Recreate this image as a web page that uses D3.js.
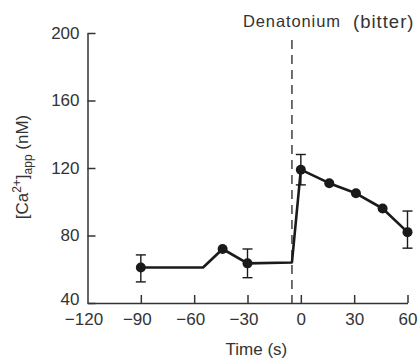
<!DOCTYPE html>
<meta charset="utf-8">
<style>
 body { margin: 0; background: white; }
 text {
     font-family: "Liberation Sans", Arial, sans-serif;
     fill: #333;
 }
 .axis path, .axis line {
     stroke: #333;
     stroke-width: 1.5px;
 }
 .axis text {
     font-size: 17px;
     fill: #333;
 }
 .trace {
     fill: none;
     stroke: #1a1a1a;
     stroke-width: 2.6px;
     stroke-linejoin: round;
 }
 .dot { fill: #1a1a1a; }
 .err { stroke: #1a1a1a; stroke-width: 1.4px; }
 .stim {
     stroke: #222;
     stroke-width: 1.3px;
     stroke-dasharray: 9,6;
 }
</style>

<svg class="chart"></svg>

<script src="https://cdn.jsdelivr.net/npm/d3@7"></script>

<script>

 // trace vertices (time in s, apparent Ca2+ in nM)
 var lineTime  = [-90, -55, -44, -30, -5, 0, 16, 31, 46, 60];
 var lineValue = [61, 61, 72, 63.5, 64, 119, 111, 105, 96, 82];

 // measured points drawn as dots
 var pointTime  = [-90, -44, -30, 0, 16, 31, 46, 60];
 var pointValue = [61, 72, 63.5, 119, 111, 105, 96, 82];

 // error bars
 var errTime = [-90, -30, 0, 60];
 var errMean = [60.5, 63.5, 119, 83.5];
 var errSd   = [8, 8.5, 9, 11];

 var xTicks = [-120, -90, -60, -30, 0, 30, 60];
 var yTicks = [40, 80, 120, 160, 200];

 var stimTime = -5;
 var stimLabel = "Denatonium";
 var tasteLabel = "(bitter)";

 var width = 419, height = 362;

 var svg = d3.select(".chart").attr("width", width).attr("height", height);

 var x = d3.scaleLinear().domain([-120, 60]).range([87.5, 407.5]);
 var y = d3.scaleLinear().domain([40, 200]).range([303, 33]);

 // axes, ticks pointing inward
 var xAxis = svg.append("g").attr("class", "axis")
     .attr("transform", "translate(0," + y(40) + ")")
     .call(d3.axisBottom(x).tickValues(xTicks).tickSizeInner(-8).tickSizeOuter(0).tickPadding(10));
 xAxis.selectAll(".tick line").filter(function(d) { return d == -120; }).remove();
 xAxis.selectAll(".tick text").filter(function(d) { return d < 0; }).attr("dx", -4);

 var yAxis = svg.append("g").attr("class", "axis")
     .attr("transform", "translate(" + x(-120) + ",0)")
     .call(d3.axisLeft(y).tickValues(yTicks).tickSizeInner(-8).tickSizeOuter(0).tickPadding(8));
 yAxis.selectAll(".tick text").filter(function(d) { return d == 40; }).attr("y", -4);

 svg.selectAll(".axis .domain").attr("fill", "none");

 // stimulus marker
 svg.append("line").attr("class", "stim")
     .attr("x1", x(stimTime)).attr("x2", x(stimTime))
     .attr("y1", 40).attr("y2", y(40));

 svg.append("text")
     .attr("x", x(stimTime)).attr("y", 27)
     .attr("text-anchor", "middle")
     .attr("font-size", 16.5)
     .attr("letter-spacing", 0.9)
     .text(stimLabel);

 svg.append("text")
     .attr("x", 353).attr("y", 28)
     .attr("font-size", 18.5)
     .attr("letter-spacing", 1)
     .text(tasteLabel);

 // trace
 var line = d3.line()
     .x(function(d, i) { return x(lineTime[i]); })
     .y(function(d) { return y(d); });

 svg.append("path").attr("class", "trace").attr("d", line(lineValue));

 // error bars
 var eb = svg.selectAll(".eb").data(errTime).enter().append("g");
 eb.append("line").attr("class", "err")
     .attr("x1", function(d) { return x(d); }).attr("x2", function(d) { return x(d); })
     .attr("y1", function(d, i) { return y(errMean[i] + errSd[i]); })
     .attr("y2", function(d, i) { return y(errMean[i] - errSd[i]); });
 eb.append("line").attr("class", "err")
     .attr("x1", function(d) { return x(d) - 5; }).attr("x2", function(d) { return x(d) + 5; })
     .attr("y1", function(d, i) { return y(errMean[i] + errSd[i]); })
     .attr("y2", function(d, i) { return y(errMean[i] + errSd[i]); });
 eb.append("line").attr("class", "err")
     .attr("x1", function(d) { return x(d) - 5; }).attr("x2", function(d) { return x(d) + 5; })
     .attr("y1", function(d, i) { return y(errMean[i] - errSd[i]); })
     .attr("y2", function(d, i) { return y(errMean[i] - errSd[i]); });

 // dots
 svg.selectAll(".dot").data(pointTime).enter().append("circle")
     .attr("class", "dot")
     .attr("cx", function(d) { return x(d); })
     .attr("cy", function(d, i) { return y(pointValue[i]); })
     .attr("r", 5);

 // axis titles
 svg.append("text")
     .attr("x", x(-25)).attr("y", 355)
     .attr("text-anchor", "middle")
     .attr("font-size", 17)
     .text("Time (s)");

 var ylab = svg.append("text")
     .attr("transform", "translate(28,167) rotate(-90)")
     .attr("text-anchor", "middle")
     .attr("font-size", 17);
 ylab.append("tspan").text("[Ca");
 ylab.append("tspan").attr("font-size", 12).attr("dy", -7).text("2+");
 ylab.append("tspan").attr("dy", 7).text("]");
 ylab.append("tspan").attr("font-size", 12).attr("dy", 4).text("app");
 ylab.append("tspan").attr("dy", -4).text(" (nM)");

</script>
